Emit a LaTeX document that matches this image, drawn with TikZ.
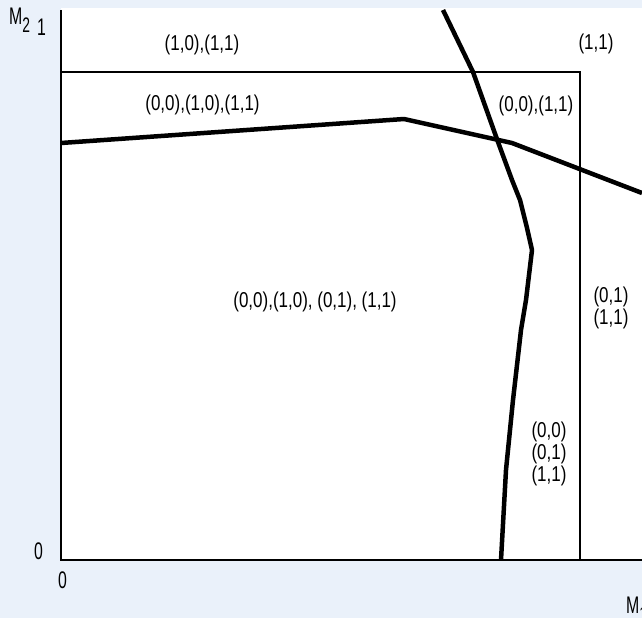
\documentclass[tikz,border=0pt]{standalone}
\usepackage{fontspec}
\setmainfont{Liberation Sans}[FakeStretch=0.79]
\newfontfamily\tickfont{Liberation Sans}[FakeStretch=0.66]
\definecolor{bgblue}{RGB}{234,241,250}
\begin{document}
\begin{tikzpicture}[x=1pt,y=-1pt,
  lbl/.style={font=\fontsize{21.5}{22}\selectfont, inner sep=0pt, anchor=base},
  stack/.style={font=\fontsize{21.5}{22}\selectfont, inner sep=0pt, anchor=center, align=center},
  ticklbl/.style={font=\tickfont\fontsize{24}{24}\selectfont, inner sep=0pt, anchor=base},
  axisline/.style={line width=2pt},
  boxline/.style={line width=1.8pt},
  curve/.style={line width=4.5pt, line join=round}]
\useasboundingbox (0,0) rectangle (642,618);
\fill[bgblue] (0,0) rectangle (642,618);
\fill[white] (61,8) rectangle (642,560);
% axes
\draw[axisline] (61,10) -- (61,560) -- (642,560);
% box
\draw[boxline] (61,72) -- (580,72) -- (580,560);
% curves
\draw[curve] (443,10) -- (473,72) -- (498,142) -- (512,180) -- (520,200) -- (527,228) -- (532,250) -- (526,300) -- (521,330) -- (513,400) -- (506,470) -- (501,560);
\draw[curve] (61,143) -- (404,119) -- (512,143) -- (642,193);
% region labels
\node[lbl] (r10) at (202,51) {(1,0),(1,1)};
\node[lbl] (r11a) at (596,50) {(1,1)};
\node[lbl] (r3) at (202.5,110) {(0,0),(1,0),(1,1)};
\node[lbl] (r2) at (536,111) {(0,0),(1,1)};
\node[lbl] (r4) at (315,307) {(0,0),(1,0), (0,1), (1,1)};
\node[stack] (r5) at (611,308) {(0,1)\\(1,1)};
\node[stack] (r6) at (549,454) {(0,0)\\(0,1)\\(1,1)};
% axis labels
\node[ticklbl, anchor=base west] (m2) at (9,25) {M\raisebox{-8pt}{\fontsize{21}{21}\selectfont 2}};
\node[ticklbl] (y1) at (41.5,36) {1};
\node[ticklbl] (y0) at (38.5,559) {0};
\node[ticklbl] (x0) at (62.5,588) {0};
\node[ticklbl, anchor=base west] (m1) at (626,613) {M\raisebox{-8pt}{\fontsize{21}{21}\selectfont 1}};
\end{tikzpicture}
\end{document}
